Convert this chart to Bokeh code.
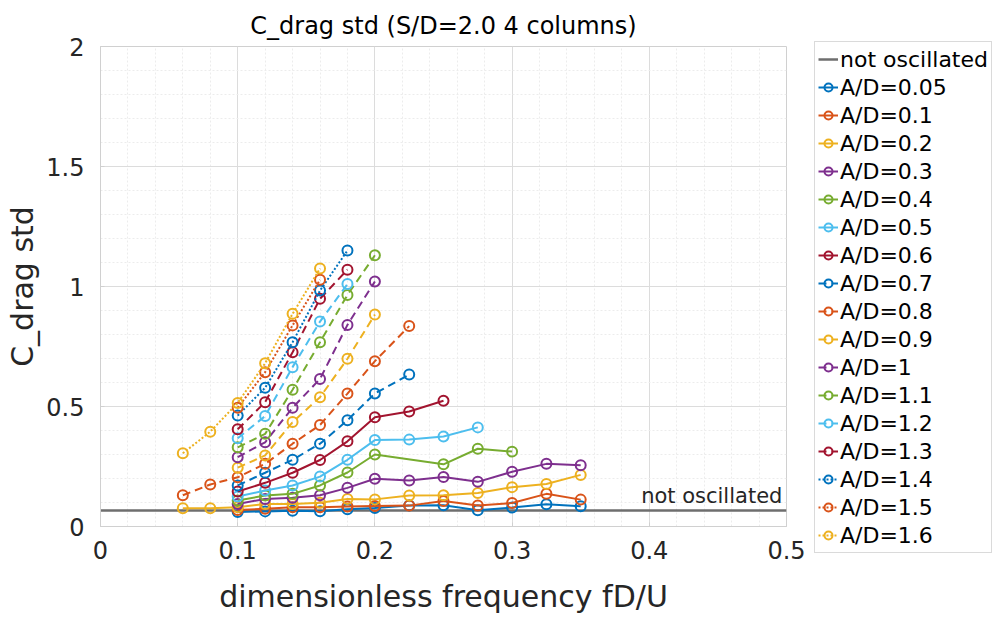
from bokeh.plotting import figure
from bokeh.models import Legend, LegendItem, FixedTicker
from bokeh.embed import file_html
from bokeh.resources import INLINE
from bokeh.core.properties import value

FONT = "DejaVu Sans"

x_ticks = [0, 0.1, 0.2, 0.3, 0.4, 0.5]
x_tick_labels = ["0", "0.1", "0.2", "0.3", "0.4", "0.5"]
y_ticks = [0, 0.5, 1, 1.5, 2]
y_tick_labels = ["0", "0.5", "1", "1.5", "2"]

not_osc_level = 0.067

f_base = [0.1, 0.12, 0.14, 0.16, 0.18, 0.2, 0.225, 0.25, 0.275, 0.3, 0.325, 0.35]

labels = ["A/D=0.05", "A/D=0.1", "A/D=0.2", "A/D=0.3", "A/D=0.4", "A/D=0.5", "A/D=0.6",
          "A/D=0.7", "A/D=0.8", "A/D=0.9", "A/D=1", "A/D=1.1", "A/D=1.2", "A/D=1.3",
          "A/D=1.4", "A/D=1.5", "A/D=1.6"]

x_ad005 = f_base
y_ad005 = [0.060, 0.063, 0.066, 0.064, 0.072, 0.077, 0.088, 0.089, 0.068, 0.079, 0.093, 0.084]
x_ad01 = f_base
y_ad01 = [0.069, 0.074, 0.080, 0.080, 0.083, 0.085, 0.087, 0.106, 0.0875, 0.098, 0.136, 0.112]
x_ad02 = [0.06, 0.08] + f_base
y_ad02 = [0.076, 0.076, 0.080, 0.094, 0.094, 0.099, 0.115, 0.113, 0.129, 0.130, 0.140, 0.164, 0.177, 0.215]
x_ad03 = f_base
y_ad03 = [0.094, 0.115, 0.120, 0.130, 0.161, 0.199, 0.192, 0.206, 0.186, 0.228, 0.261, 0.255]
x_ad04 = [0.1, 0.12, 0.14, 0.16, 0.18, 0.2, 0.25, 0.275, 0.3]
y_ad04 = [0.108, 0.129, 0.136, 0.171, 0.225, 0.300, 0.259, 0.324, 0.312]
x_ad05 = [0.1, 0.12, 0.14, 0.16, 0.18, 0.2, 0.225, 0.25, 0.275]
y_ad05 = [0.125, 0.150, 0.171, 0.208, 0.278, 0.360, 0.362, 0.375, 0.413]
x_ad06 = [0.1, 0.12, 0.14, 0.16, 0.18, 0.2, 0.225, 0.25]
y_ad06 = [0.146, 0.182, 0.224, 0.277, 0.355, 0.455, 0.479, 0.524]
x_ad07 = [0.1, 0.12, 0.14, 0.16, 0.18, 0.2, 0.225]
y_ad07 = [0.171, 0.224, 0.278, 0.345, 0.443, 0.554, 0.633]
x_ad08 = [0.06, 0.08, 0.1, 0.12, 0.14, 0.16, 0.18, 0.2, 0.225]
y_ad08 = [0.130, 0.175, 0.205, 0.261, 0.345, 0.423, 0.554, 0.689, 0.835]
x_ad09 = [0.1, 0.12, 0.14, 0.16, 0.18, 0.2]
y_ad09 = [0.245, 0.296, 0.435, 0.539, 0.699, 0.883]
x_ad10 = [0.1, 0.12, 0.14, 0.16, 0.18, 0.2]
y_ad10 = [0.289, 0.351, 0.495, 0.615, 0.840, 1.021]
x_ad11 = [0.1, 0.12, 0.14, 0.16, 0.18, 0.2]
y_ad11 = [0.330, 0.386, 0.570, 0.768, 0.965, 1.130]
x_ad12 = [0.1, 0.12, 0.14, 0.16, 0.18]
y_ad12 = [0.368, 0.460, 0.664, 0.854, 1.010]
x_ad13 = [0.1, 0.12, 0.14, 0.16, 0.18]
y_ad13 = [0.405, 0.518, 0.726, 0.949, 1.070]
x_ad14 = [0.1, 0.12, 0.14, 0.16, 0.18]
y_ad14 = [0.462, 0.578, 0.768, 0.983, 1.150]
x_ad15 = [0.1, 0.12, 0.14, 0.16]
y_ad15 = [0.495, 0.643, 0.838, 1.028]
x_ad16 = [0.06, 0.08, 0.1, 0.12, 0.14, 0.16]
y_ad16 = [0.305, 0.395, 0.515, 0.680, 0.886, 1.075]

xs = [x_ad005, x_ad01, x_ad02, x_ad03, x_ad04, x_ad05, x_ad06, x_ad07, x_ad08,
      x_ad09, x_ad10, x_ad11, x_ad12, x_ad13, x_ad14, x_ad15, x_ad16]
ys = [y_ad005, y_ad01, y_ad02, y_ad03, y_ad04, y_ad05, y_ad06, y_ad07, y_ad08,
      y_ad09, y_ad10, y_ad11, y_ad12, y_ad13, y_ad14, y_ad15, y_ad16]

colors = ["#0072BD", "#D95319", "#EDB120", "#7E2F8E", "#77AC30", "#4DBEEE", "#A2142F"]
dashes = ["solid"] * 7 + ["8 5"] * 7 + ["2 2"] * 3

p = figure(x_range=(0, 0.5), y_range=(0, 2), output_backend="svg", toolbar_location=None,
           frame_width=686, frame_height=480,
           min_border_left=100, min_border_top=46, min_border_bottom=89, min_border_right=210,
           background_fill_color="white", border_fill_color="white")

p.title.text = "C_drag std (S/D=2.0 4 columns)"
p.title.align = "center"
p.title.vertical_align = "top"
p.title.text_font = FONT
p.title.text_font_size = "24px"
p.title.text_font_style = "normal"
p.title.text_color = "#000000"
p.title.offset = 0
p.title.standoff = 10

p.xaxis.ticker = FixedTicker(ticks=x_ticks, minor_ticks=[i * 0.02 for i in range(26)])
p.yaxis.ticker = FixedTicker(ticks=y_ticks, minor_ticks=[i * 0.1 for i in range(21)])
p.xaxis.major_label_overrides = {t: l for t, l in zip(x_ticks, x_tick_labels)}
p.yaxis.major_label_overrides = {t: l for t, l in zip(y_ticks, y_tick_labels)}

for ax in (p.xaxis, p.yaxis):
    ax.major_label_text_font = FONT
    ax.major_label_text_font_size = "24px"
    ax.major_label_text_color = "#262626"
    ax.axis_label_text_font = FONT
    ax.axis_label_text_font_size = "30px"
    ax.axis_label_text_font_style = "normal"
    ax.axis_label_text_color = "#262626"
    ax.axis_line_color = "#d0d0d0"
    ax.major_tick_line_color = "#d0d0d0"
    ax.major_tick_in = 4
    ax.major_tick_out = 0
    ax.minor_tick_line_color = None
p.xaxis.major_label_standoff = 10
p.yaxis.major_label_standoff = 12
p.xaxis.axis_label_standoff = 17
p.yaxis.axis_label_standoff = 3

p.xaxis.axis_label = "dimensionless frequency fD/U"
p.yaxis.axis_label = "C_drag std"

p.grid.grid_line_color = "#dcdcdc"
p.grid.grid_line_width = 1
p.grid.minor_grid_line_color = "#ececec"
p.grid.minor_grid_line_dash = "2 2"
p.outline_line_color = "#d0d0d0"

items = []
r0 = p.line([0, 0.5], [not_osc_level, not_osc_level], line_color="#6e6e6e", line_width=2.5)
items.append(LegendItem(label="not oscillated", renderers=[r0]))

p.text(x=[0.497], y=[not_osc_level], text=["not oscillated"], text_align="right",
       text_baseline="bottom", y_offset=-2, text_font=value(FONT), text_font_size="21px",
       text_color="#262626")

for i, (xv, yv, lab) in enumerate(zip(xs, ys, labels)):
    c = colors[i % 7]
    rl = p.line(xv, yv, line_color=c, line_width=2, line_dash=dashes[i])
    rs = p.scatter(xv, yv, marker="circle", size=10, fill_color=None, line_color=c, line_width=2)
    items.append(LegendItem(label=lab, renderers=[rl, rs]))

legend = Legend(items=items, location=(28, -27))
legend.label_text_font = FONT
legend.label_text_font_size = "22px"
legend.label_text_color = "#000000"
legend.glyph_width = 20
legend.glyph_height = 28
legend.label_height = 28
legend.label_standoff = 2
legend.spacing = 0
legend.padding = 3
legend.margin = 0
legend.border_line_color = "#b5b5b5"
legend.border_line_width = 1
p.add_layout(legend, "right")

open("out.html", "w").write(file_html(p, INLINE))
